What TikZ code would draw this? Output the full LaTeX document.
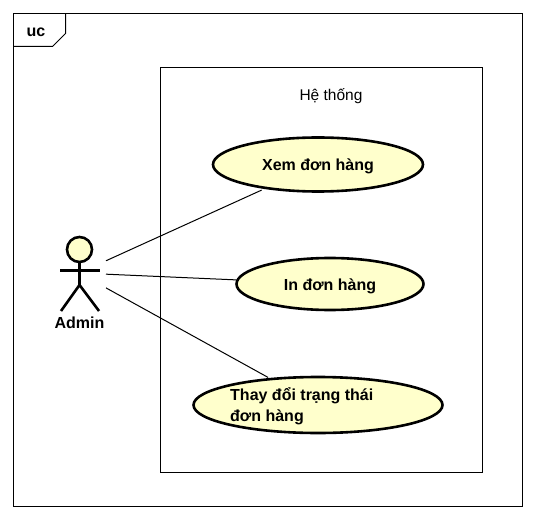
\documentclass[tikz,border=0pt]{standalone}
\usepackage{fontspec}
\setmainfont{Liberation Sans}
\usetikzlibrary{shapes.geometric}
\definecolor{ucfill}{HTML}{FFFFCC}
\tikzset{
  thinline/.style={draw=black,line width=1pt},
  usecase/.style={ellipse,draw=black,line width=2.6pt,fill=ucfill,inner sep=0pt,font=\fontsize{16}{20}\selectfont\bfseries},
  caselabel/.style={inner sep=0pt,align=left,anchor=west,font=\fontsize{16}{21}\selectfont\bfseries},
  actorline/.style={draw=black,line width=2.6pt},
  assoc/.style={draw=black,line width=1pt}
}
\begin{document}
\begin{tikzpicture}[x=1pt,y=-1pt]
\useasboundingbox (0,0) rectangle (534,518);
\fill[white] (0,0) rectangle (534,518);
% frame
\draw[thinline] (13.5,13.5) rectangle (522.5,506.5);
\draw[thinline] (13.5,46.5) -- (52.5,46.5) -- (65.5,33.5) -- (65.5,13.5);
\node[inner sep=0pt,font=\fontsize{16}{18}\selectfont\bfseries] (uc) at (36,32.5) {uc};
% system
\node[draw=black,line width=1pt,minimum width=322pt,minimum height=405pt,inner sep=0pt] (sys) at (321.5,270) {};
\node[inner sep=0pt,font=\fontsize{15.5}{18}\selectfont] (systitle) at (331,96) {Hệ thống};
% use cases
\node[usecase,minimum width=210pt,minimum height=54pt,outer sep=3pt] (e1) at (318,164.5) {\raisebox{-6pt}[0pt][0pt]{Xem đơn hàng}};
\node[usecase,minimum width=187pt,minimum height=52pt,outer sep=1pt] (e2) at (330,284) {\raisebox{-6pt}[0pt][0pt]{In đơn hàng}};
\node[usecase,minimum width=249pt,minimum height=56pt,outer sep=2pt] (e3) at (318,405) {};
\node[caselabel] (e3text) at (230,406) {Thay đổi trạng thái\\đơn hàng};
% actor
\node[minimum width=54pt,minimum height=80pt,inner sep=0pt,outer sep=0pt] (actor) at (79,273) {};
\draw[actorline,fill=ucfill] (79.5,249.5) circle (12.5);
\draw[actorline] (79.5,262) -- (79.5,285);
\draw[actorline] (60,270.5) -- (100,270.5);
\draw[actorline] (61,311) -- (79.5,285) -- (99,311);
\node[inner sep=0pt,font=\fontsize{16}{18}\selectfont\bfseries] (admin) at (79.5,323) {Admin};
% associations
\draw[assoc] (actor) -- (e1);
\draw[assoc] (actor) -- (e2);
\draw[assoc] (actor) -- (e3);
\end{tikzpicture}
\end{document}
